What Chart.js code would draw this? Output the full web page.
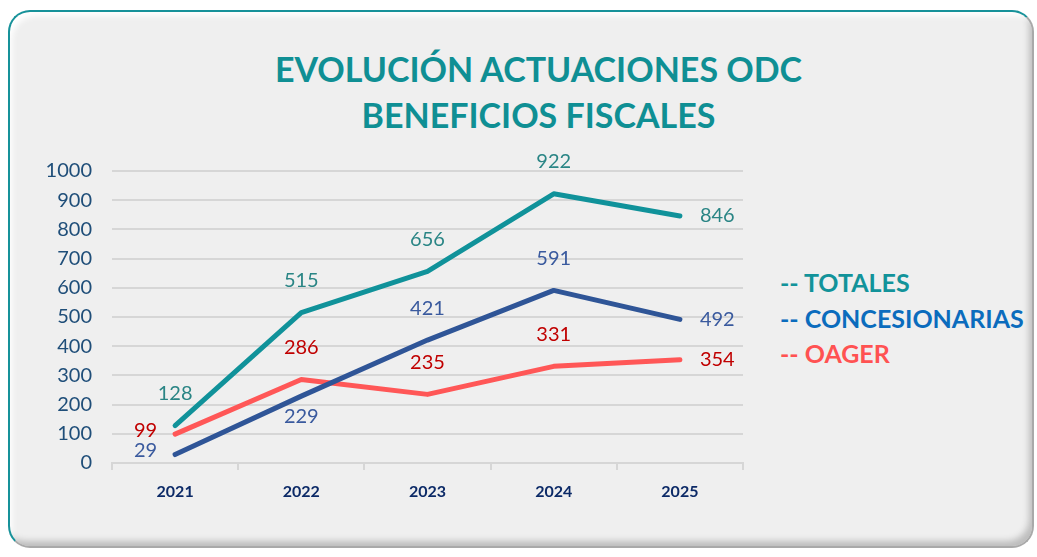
<!DOCTYPE html>
<html>
<head>
<meta charset="utf-8">
<script src="https://cdn.jsdelivr.net/npm/chart.js@4/dist/chart.umd.min.js"></script>
<style>
  html, body { margin: 0; padding: 0; background: #fff; }
  body { width: 1037px; height: 557px; position: relative; overflow: hidden; font-family: Lato, "Open Sans", sans-serif; }
  .card {
    position: absolute; left: 8px; top: 10px; width: 1022px; height: 534px;
    border: 2px solid #17929a; border-right-color: #a9a9a9; border-bottom-color: #a9a9a9;
    border-radius: 22px; background: #efefef;
    box-shadow: inset 6px 8px 6px -4px #fff, inset -5px -7px 6px -2px #bdbdbd;
  }
  .title {
    position: absolute; left: 0; width: 1077px; top: 46px; text-align: center;
    color: #0f8f94; font-weight: 700; font-size: 34px; line-height: 46px;
  }
  .legend { position: absolute; left: 780px; top: 265px; font-weight: 700; font-size: 25px; line-height: 35.5px; }
  canvas { position: absolute; left: 0; top: 0; }
</style>
</head>
<body>
<div class="card"></div>
<div class="title">EVOLUCIÓN ACTUACIONES ODC<br>BENEFICIOS FISCALES</div>
<div class="legend" id="legend"></div>
<canvas id="chart" width="1037" height="557"></canvas>
<script>
const years = ['2021', '2022', '2023', '2024', '2025'];
const totales = [128, 515, 656, 922, 846];
const concesionarias = [29, 229, 421, 591, 492];
const oager = [99, 286, 235, 331, 354];
const yTicks = [0, 100, 200, 300, 400, 500, 600, 700, 800, 900, 1000];

// where each value label sits relative to its point
const totalesPos = ['above', 'above', 'above', 'above', 'right'];
const concesionariasPos = ['left', 'below', 'above', 'above', 'right'];
const oagerPos = ['left', 'above', 'above', 'above', 'right'];

const series = [
  { label: 'TOTALES', data: totales, pos: totalesPos, line: '#10929a', text: '#2a8585', legend: '#12939a' },
  { label: 'CONCESIONARIAS', data: concesionarias, pos: concesionariasPos, line: '#2f5597', text: '#3a5a9e', legend: '#0b6cbd' },
  { label: 'OAGER', data: oager, pos: oagerPos, line: '#ff5757', text: '#c00000', legend: '#ff5252' },
];

// legend as plain text
const legendEl = document.getElementById('legend');
series.forEach(s => {
  const d = document.createElement('div');
  d.style.color = s.legend;
  d.textContent = '-- ' + s.label;
  legendEl.appendChild(d);
});

// draw the value labels next to each point
const valueLabels = {
  id: 'valueLabels',
  afterDatasetsDraw(chart) {
    const ctx = chart.ctx;
    ctx.save();
    ctx.font = '20px Lato, "Open Sans", sans-serif';
    ctx.textBaseline = 'middle';
    chart.data.datasets.forEach((ds, i) => {
      const meta = chart.getDatasetMeta(i);
      meta.data.forEach((pt, j) => {
        const pos = ds.labelPos[j];
        let x = pt.x, y = pt.y;
        ctx.textAlign = 'center';
        if (pos === 'above') y -= 32;
        if (pos === 'below') y += 20;
        if (pos === 'left') { x -= 18; y -= 4; ctx.textAlign = 'right'; }
        if (pos === 'right') { x += 20; ctx.textAlign = 'left'; }
        ctx.fillStyle = ds.labelColor;
        ctx.fillText(String(ds.data[j]), x, y);
      });
    });
    ctx.restore();
  }
};

const ctx = document.getElementById('chart').getContext('2d');
const chart = new Chart(ctx, {
  type: 'line',
  data: {
    labels: years,
    datasets: series.map(s => ({
      label: s.label,
      data: s.data,
      borderColor: s.line,
      backgroundColor: s.line,
      borderWidth: 5,
      borderCapStyle: 'round',
      borderJoinStyle: 'round',
      pointRadius: 0,
      tension: 0,
      labelPos: s.pos,
      labelColor: s.text,
    })),
  },
  options: {
    responsive: false,
    animation: false,
    layout: { padding: { left: 30, right: 294, top: 171, bottom: 44 } },
    plugins: {
      legend: { display: false },
      title: { display: false },
      tooltip: { enabled: false },
    },
    scales: {
      x: {
        offset: true,
        grid: { drawOnChartArea: false, color: '#d6d6d6', lineWidth: 2, tickLength: 7, offset: true },
        border: { color: '#d6d6d6', width: 2 },
        ticks: { color: '#0c2a67', padding: 12, font: { family: 'Lato', size: 16, weight: 'bold' } },
        afterFit: s => { s.height = 50; },
      },
      y: {
        min: 0,
        max: 1000,
        afterBuildTicks: s => { s.ticks = yTicks.map(v => ({ value: v })); },
        grid: { color: '#d6d6d6', lineWidth: 2, drawTicks: false },
        border: { display: false },
        ticks: { color: '#1f4e79', padding: 20, font: { family: 'Lato', size: 20 }, callback: v => String(v) },
        afterFit: s => { s.width = 82; },
      },
    },
  },
  plugins: [valueLabels],
});
</script>
</body>
</html>
